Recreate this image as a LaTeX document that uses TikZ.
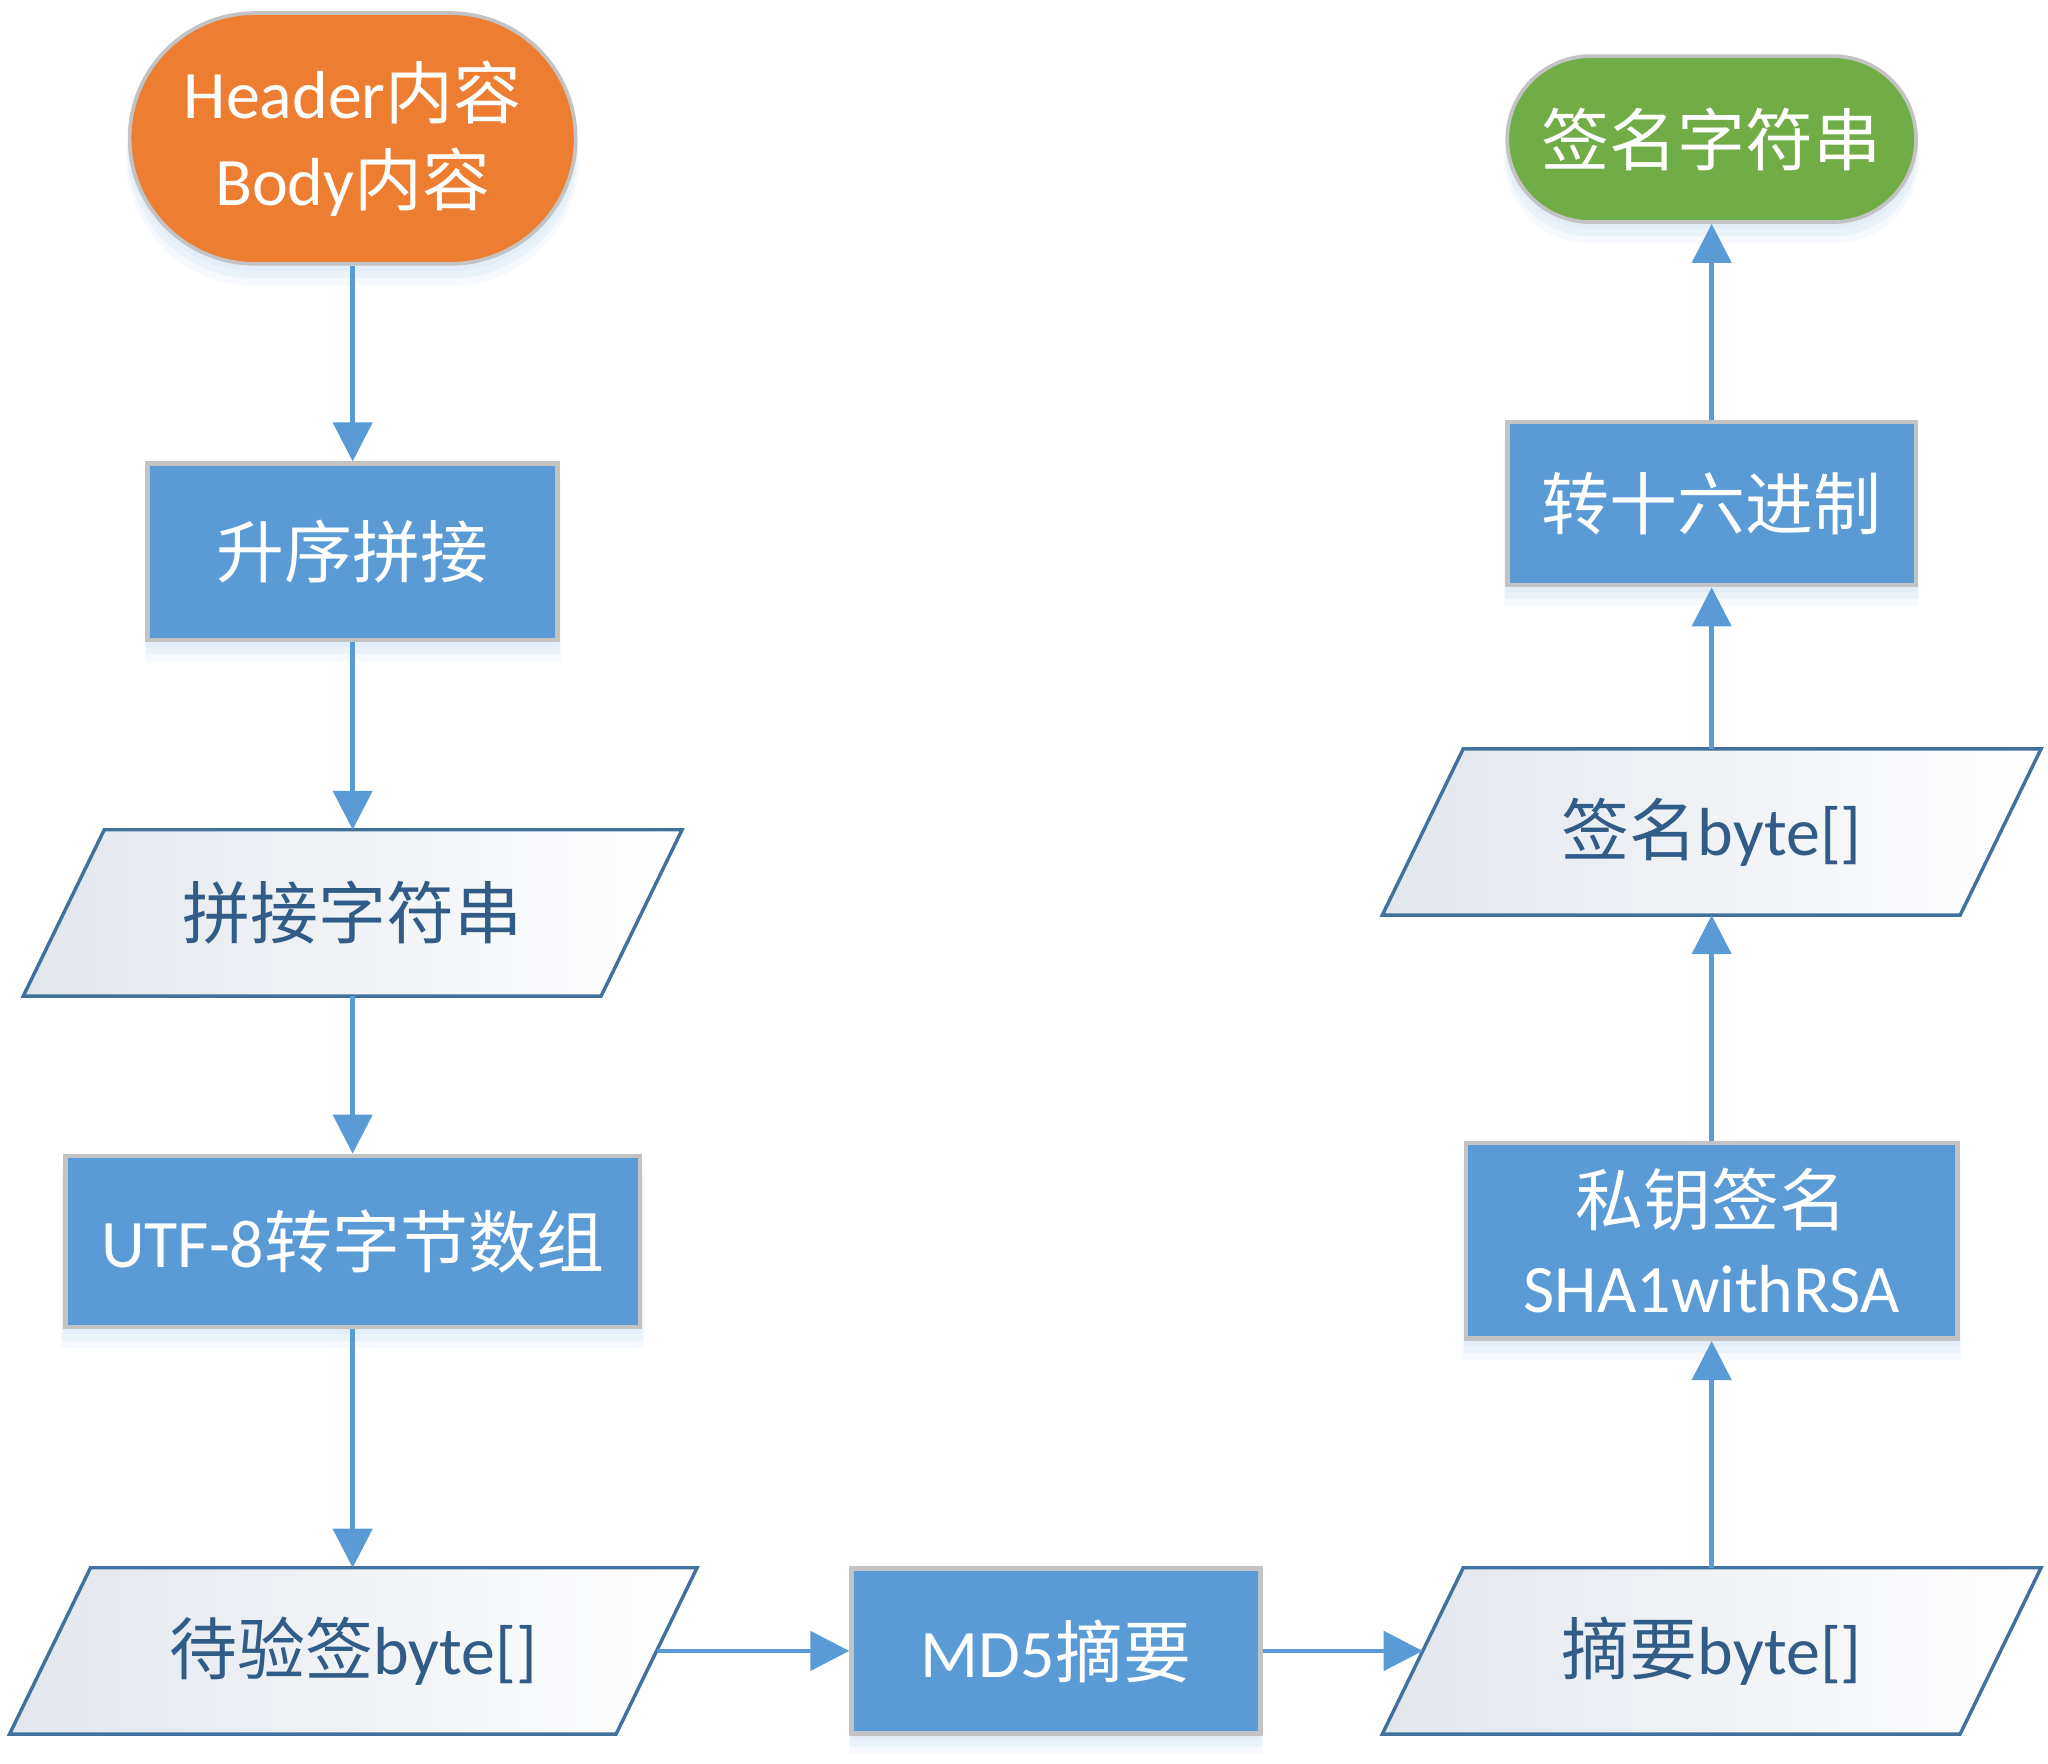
\documentclass[tikz,border=0pt]{standalone}
\usepackage{fontspec}
\setmainfont{Noto Sans CJK SC}
\newfontfamily\lat{Carlito}
\usetikzlibrary{shapes.misc,arrows.meta,shadows,calc,backgrounds}
\definecolor{orangeF}{HTML}{ED7D31}
\definecolor{greenF}{HTML}{70AD47}
\definecolor{blueF}{HTML}{5B9BD5}
\definecolor{grayB}{HTML}{C3C3C3}
\definecolor{parB}{HTML}{41719C}
\definecolor{parT}{HTML}{305C87}
\definecolor{parL}{HTML}{E2E6ED}
\definecolor{shadowC}{HTML}{BDD7EE}
\newcommand\ioshape[1]{%
  \path[iofill] ($(#1.south west)+(-31,0)$) -- ($(#1.south east)+(-31,0)$)
    -- ($(#1.north east)+(31,0)$) -- ($(#1.north west)+(31,0)$) -- cycle;}
\begin{document}
\begin{tikzpicture}[x=0.1mm,y=-0.1mm,
  txt/.style={font=\fontsize{14.8}{19}\selectfont, align=center, inner sep=0pt},
  softshadow/.style={
    general shadow={fill=shadowC, fill opacity=0.18, shadow yshift=-0.5mm, shadow scale=1.005},
    general shadow={fill=shadowC, fill opacity=0.18, shadow yshift=-1.0mm, shadow scale=1.01},
    general shadow={fill=shadowC, fill opacity=0.14, shadow yshift=-1.5mm, shadow scale=1.015}},
  proc/.style={txt, rectangle, fill=blueF, draw=grayB, line width=1pt, text=white, softshadow},
  term/.style={txt, rounded rectangle, draw=grayB, line width=0.8pt, text=white, softshadow},
  io/.style={txt, rectangle, text=parT, minimum height=12.6mm, minimum width=44.1mm},
  iofill/.style={draw=parB, line width=0.75pt, left color=parL, right color=white, line join=miter},
  arr/.style={draw=blueF, line width=1pt, -{Triangle[width=8.5pt,length=8.5pt]}}
]
\useasboundingbox (0,0) rectangle (1568,1350);

\node[term, fill=orangeF, minimum width=34mm, minimum height=19.2mm] (start) at (270,106) {\raisebox{-1.3mm}{\parbox{30mm}{\centering{\lat Header}内容\\{\lat Body}内容}}};
\node[proc, minimum width=31.4mm, minimum height=13.5mm] (s1) at (270,422.5) {升序拼接};
\node[io] (p1) at (270,699) {拼接字符串};
\node[proc, minimum width=44mm, minimum height=13.1mm] (s2) at (270,950.5) {{\lat UTF-8}转字节数组};
\node[io, minimum width=46.3mm] (p2) at (270.5,1264) {待验签{\lat byte[]}};
\node[proc, minimum width=31.3mm, minimum height=12.6mm] (s3) at (808.5,1264) {{\lat MD5}摘要};
\node[io] (p3) at (1310.5,1264) {摘要{\lat byte[]}};
\node[proc, minimum width=37.6mm, minimum height=15mm] (s4) at (1310.5,950) {私钥签名\\{\lat SHA1withRSA}};
\node[io] (p4) at (1310.5,637) {签名{\lat byte[]}};
\node[proc, minimum width=31.3mm, minimum height=12.5mm] (s5) at (1310.5,385.5) {转十六进制};
\node[term, fill=greenF, minimum width=31.3mm, minimum height=12.7mm] (end) at (1310.5,106.5) {签名字符串};

\begin{scope}[on background layer]
  \ioshape{p1}\ioshape{p2}\ioshape{p3}\ioshape{p4}
\end{scope}

\draw[arr] (start.south) -- (s1.north);
\draw[arr] (s1.south) -- (p1.north);
\draw[arr] (p1.south) -- (s2.north);
\draw[arr] (s2.south) -- (p2.north -| s2.south);
\draw[arr] (p2.east) -- (s3.west);
\draw[arr] (s3.east) -- (p3.west);
\draw[arr] (p3.north) -- (s4.south);
\draw[arr] (s4.north) -- (p4.south);
\draw[arr] (p4.north) -- (s5.south);
\draw[arr] (s5.north) -- (end.south);
\end{tikzpicture}
\end{document}
